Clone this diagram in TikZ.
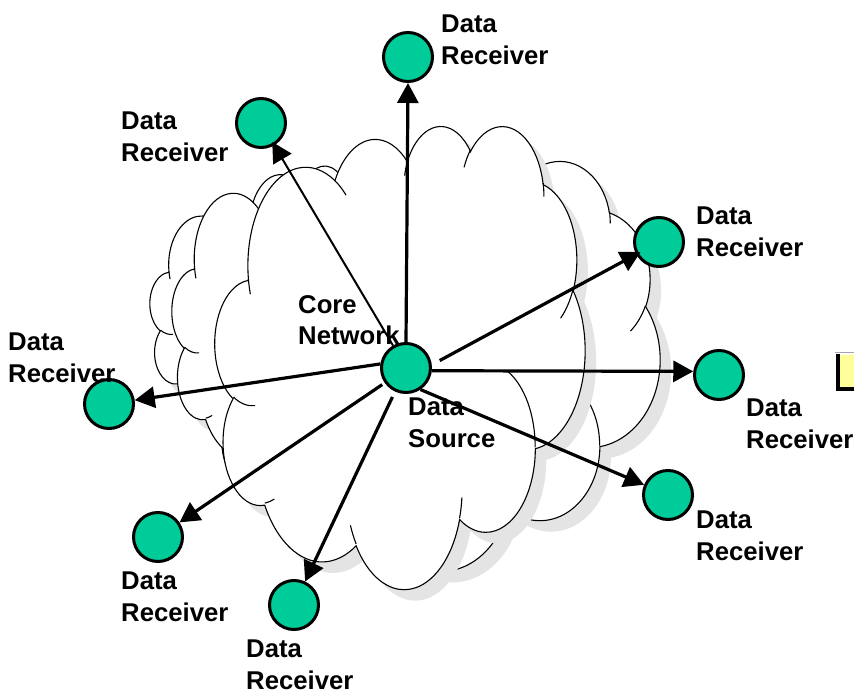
\documentclass[tikz,border=0pt]{standalone}
\usepackage{fontspec}
\setmainfont{Liberation Sans}
\usetikzlibrary{arrows.meta}

\definecolor{nodegreen}{HTML}{00CC99}
\definecolor{cloudshade}{HTML}{E4E4E4}
\definecolor{notepaper}{HTML}{FFFF99}

% ---- cloud outline, built once in a 432 x 432 box ----
\newcommand\cloudouter{}
\newcommand\cloudinner{}
\newcommand\cldmove[3]{\xdef#1{#1 (#2,#3)}}
% elliptical arc: radii #2,#3, start angle #4, sweep #5 (angles measured on the ellipse as seen)
\newcommand\cldarc[5]{%
  \pgfmathsetmacro\cldS{atan2(#2*sin(#4),#3*cos(#4))}%
  \pgfmathsetmacro\cldE{atan2(#2*sin(#4+#5),#3*cos(#4+#5))}%
  \pgfmathsetmacro\cldD{mod(\cldE-(\cldS)+720,360)}%
  \xdef#1{#1 arc[x radius=#2,y radius=#3,start angle=\cldS,delta angle=\cldD]}%
}
\cldmove\cloudouter{39.00}{143.70}
\cldarc\cloudouter{67.53}{91.90}{-190.4875}{123.7805}
\cldarc\cloudouter{53.33}{72.67}{-144.1024}{89.9452}
\cldarc\cloudouter{43.65}{59.45}{-145.8079}{99.7230}
\cldarc\cloudouter{48.57}{65.95}{-130.9861}{117.2417}
\cldarc\cloudouter{53.33}{72.73}{-78.7089}{109.0269}
\cldarc\cloudouter{67.75}{92.20}{-46.2673}{130.2690}
\cldarc\cloudouter{57.85}{78.67}{0.6250}{114.0333}
\cldarc\cloudouter{67.52}{92.15}{22.4516}{115.1726}
\cldarc\cloudouter{77.20}{105.43}{66.2426}{75.7110}
\cldarc\cloudouter{43.60}{59.18}{-274.9421}{146.7356}
\cldarc\cloudouter{43.45}{59.45}{-246.8285}{152.5320}
\xdef\cloudouter{\cloudouter -- cycle}

\cldmove\cloudinner{46.93}{261.77}\cldarc\cloudinner{43.45}{59.45}{86.7420}{26.4295}
\cldmove\cloudinner{69.28}{348.99}\cldarc\cloudinner{43.60}{59.18}{73.6105}{11.4475}
\cldmove\cloudinner{164.78}{390.90}\cldarc\cloudinner{67.52}{92.15}{137.6242}{14.0811}
\cldmove\cloudinner{288.27}{347.51}\cldarc\cloudinner{67.52}{92.15}{6.4533}{15.9984}
\cldmove\cloudinner{341.29}{229.54}\cldarc\cloudinner{57.85}{78.67}{-70.2924}{70.9174}
\cldmove\cloudinner{417.98}{153.54}\cldarc\cloudinner{53.33}{72.73}{30.3180}{27.7515}
\cldmove\cloudinner{383.24}{54.26}\cldarc\cloudinner{48.57}{65.95}{-13.7443}{14.8589}
\cldmove\cloudinner{290.78}{39.52}\cldarc\cloudinner{48.57}{65.95}{-149.1815}{18.1954}
\cldmove\cloudinner{221.41}{47.20}\cldarc\cloudinner{43.65}{59.45}{-163.4943}{17.6864}
\cldmove\cloudinner{140.00}{51.92}\cldarc\cloudinner{67.53}{91.90}{-66.7070}{12.3194}
\cldmove\cloudinner{41.27}{157.89}\cldarc\cloudinner{67.53}{91.90}{157.6544}{11.8582}

% cloud with its drop shadow: left, top, width, height
\newcommand\drawcloud[4]{%
  \pgfmathsetmacro\cldsx{#3/432}%
  \pgfmathsetmacro\cldsy{#4/432}%
  \begin{scope}[shift={(#1+11,#2+11)}, x=\cldsx pt, y=-\cldsy pt]
    \fill[cloudshade] \cloudouter;
  \end{scope}
  \begin{scope}[shift={(#1,#2)}, x=\cldsx pt, y=-\cldsy pt]
    \filldraw[cloudline] \cloudouter;
    \draw[cloudline, fill=none] \cloudinner;
  \end{scope}
}

\begin{document}
\begin{tikzpicture}[x=1pt, y=-1pt,
  cloudline/.style={draw=black, fill=white, line width=1.1pt},
  rxdot/.style={circle, draw=black, line width=3pt, fill=nodegreen,
                minimum size=49pt, inner sep=0pt},
  lbl/.style={anchor=north west, inner sep=0pt, align=left,
              font=\fontsize{25.7}{31.5}\selectfont\bfseries},
  feed/.style={line width=3.2pt, -{Triangle[length=20pt,width=21pt]}},
  thinfeed/.style={feed, line width=2pt}]
\useasboundingbox (0,0) rectangle (854,695);
\clip (0,0) rectangle (854,695);

% layered core network clouds, back to front
\drawcloud{212}{160}{448}{410}
\drawcloud{150}{195}{210}{230}
\drawcloud{172}{165}{250}{310}
\drawcloud{215}{125}{370}{463}

% note box at the right edge
\fill[notepaper] (838,355) rectangle (870,389);
\draw[gray!70, line width=1pt] (835,352) -- (870,352);
\draw[black, line width=4pt] (838,354) -- (838,389) -- (870,389);

% source and receivers
\node[rxdot] (src) at (406,368) {};
\node[rxdot] (rT)  at (408,57)  {};
\node[rxdot] (rTL) at (261,123) {};
\node[rxdot] (rRT) at (659,242) {};
\node[rxdot] (rR)  at (719,375) {};
\node[rxdot] (rRB) at (668,495) {};
\node[rxdot] (rB)  at (294,605) {};
\node[rxdot] (rBL) at (158,537) {};
\node[rxdot] (rL)  at (109,404) {};

% data flows from the source
\draw[feed] (src.north) -- (rT.south);
\draw[thinfeed, shorten >=-4pt] (src.120) -- (rTL);
\draw[feed, shorten <=9pt, shorten >=-5pt] (src.7) -- (rRT);
\draw[feed] (src.-6) -- (rR.172);
\draw[feed] (src.-56) -- (rRB);
\draw[feed, shorten <=6pt] (src.-115) -- (rB);
\draw[feed, shorten <=3pt] (src.-145) -- (rBL);
\draw[feed] (src.171) -- (rL);

% labels
\node[lbl] (tT)   at (441,15)  {Data\\Receiver};
\node[lbl] (tTL)  at (121,112) {Data\\Receiver};
\node[lbl] (tRT)  at (696,207) {Data\\Receiver};
\node[lbl] (tL)   at (8,333)   {Data\\Receiver};
\node[lbl] (tR)   at (746,399) {Data\\Receiver};
\node[lbl] (tRB)  at (696,511) {Data\\Receiver};
\node[lbl] (tBL)  at (121,572) {Data\\Receiver};
\node[lbl] (tB)   at (246,640) {Data\\Receiver};
\node[lbl] (tCore) at (298,295) {Core\\Network};
\node[lbl] (tSrc) at (408,398) {Data\\Source};
\end{tikzpicture}
\end{document}
